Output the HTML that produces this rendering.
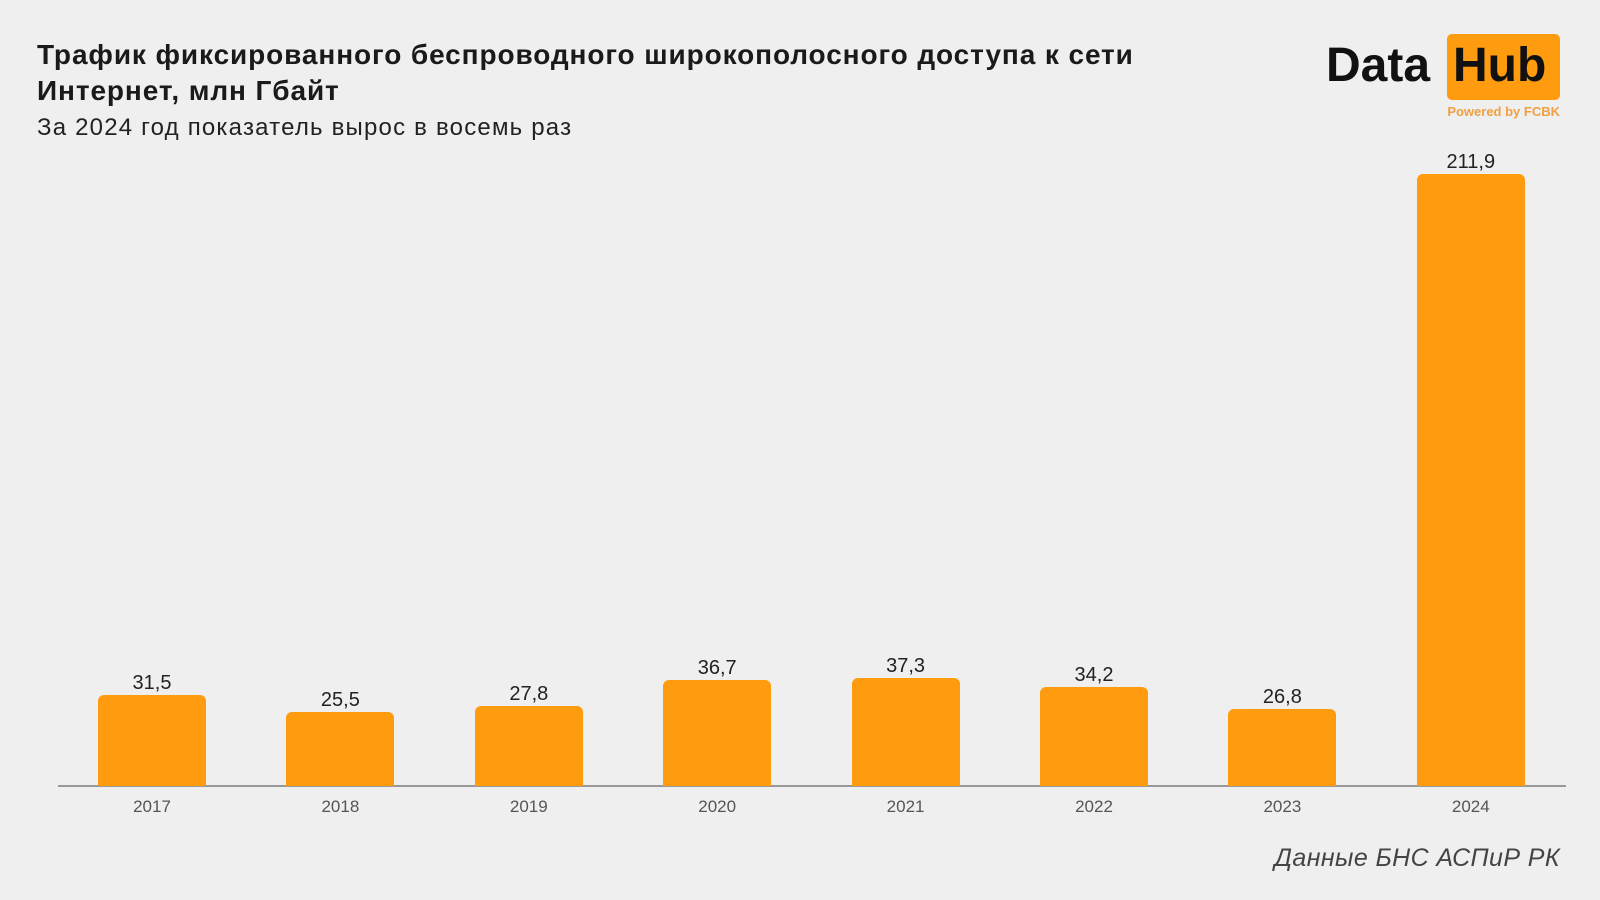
<!DOCTYPE html>
<html><head><meta charset="utf-8"><style>
body{margin:0;width:1600px;height:900px;background:#efefef;font-family:"Liberation Sans",sans-serif;position:relative;overflow:hidden}
.t{position:absolute;left:37px;top:37px;font-weight:bold;font-size:28px;letter-spacing:0.9px;line-height:36px;color:#1a1a1a}
.s{position:absolute;left:37px;top:114px;font-size:24px;letter-spacing:1.2px;color:#222}
.src{position:absolute;right:40px;top:844px;font-size:25px;letter-spacing:0.4px;font-style:italic;color:#444}
.bar{position:absolute;width:108px;background:#ff9b0e;border-radius:6px 6px 0 0}
.v{position:absolute;width:140px;text-align:center;font-size:20px;color:#222}
.y{position:absolute;width:140px;text-align:center;font-size:17px;color:#555;top:797px}
.axis{position:absolute;left:58px;width:1508px;top:785px;height:2px;background:#999}
</style></head><body>
<div class="t">Трафик фиксированного беспроводного широкополосного доступа к сети<br>Интернет, млн Гбайт</div>
<div class="s">За 2024 год показатель вырос в восемь раз</div>
<div style="position:absolute;left:1326px;top:38px;font-size:48px;font-weight:bold;color:#111">Data</div>
<div style="position:absolute;left:1447px;top:34px;width:113px;height:66px;background:#ff9b0e;border-radius:5px"></div>
<div style="position:absolute;left:1453px;top:38px;font-size:48px;font-weight:bold;color:#111">Hub</div>
<div style="position:absolute;right:40px;top:104px;font-size:13px;font-weight:bold;color:#f0a040">Powered by FCBK</div>
<div class="axis"></div>
<div id="c"></div>
<div class="src">Данные БНС АСПиР РК</div>
<script>
var d=[["2017",31.5],["2018",25.5],["2019",27.8],["2020",36.7],["2021",37.3],["2022",34.2],["2023",26.8],["2024",211.9]];
var h="";d.forEach(function(e,i){var cx=152+i*188.4,hh=e[1]*2.886,top=786-hh;
h+='<div class="bar" style="left:'+(cx-54)+'px;top:'+top+'px;height:'+hh+'px"></div>';
h+='<div class="v" style="left:'+(cx-70)+'px;top:'+(top-23)+'px">'+String(e[1]).replace(".",",")+'</div>';
h+='<div class="y" style="left:'+(cx-70)+'px">'+e[0]+'</div>';});
document.getElementById("c").innerHTML=h;
</script>
</body></html>
